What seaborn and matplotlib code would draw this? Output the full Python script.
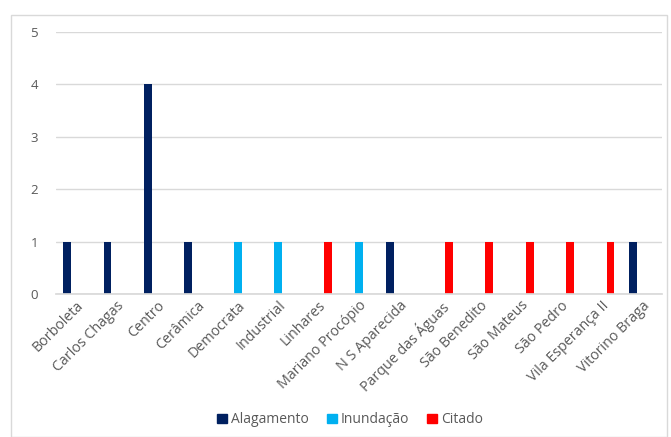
import matplotlib
matplotlib.use("Agg")
import matplotlib.pyplot as plt
import seaborn as sns
import pandas as pd
from matplotlib.patches import Rectangle

bairros = ["Borboleta", "Carlos Chagas", "Centro", "Cerâmica", "Democrata", "Industrial",
           "Linhares", "Mariano Procópio", "N S Aparecida", "Parque das Águas",
           "São Benedito", "São Mateus", "São Pedro", "Vila Esperança II", "Vitorino Braga"]
series = ["Alagamento", "Inundação", "Citado"]
alagamento = [1, 1, 4, 1, 0, 0, 0, 0, 1, 0, 0, 0, 0, 0, 1]
inundacao  = [0, 0, 0, 0, 1, 1, 0, 1, 0, 0, 0, 0, 0, 0, 0]
citado     = [0, 0, 0, 0, 0, 0, 1, 0, 0, 1, 1, 1, 1, 1, 0]
colors = ["#002060", "#00B0F0", "#FF0000"]

rows = []
for name, vals in zip(series, [alagamento, inundacao, citado]):
    for b, v in zip(bairros, vals):
        rows.append({"Bairro": b, "Tipo": name, "Valor": v})
df = pd.DataFrame(rows)

sns.set_theme(style="white")
plt.rcParams["font.family"] = ["Open Sans", "DejaVu Sans"]

fig = plt.figure(figsize=(6.71, 4.37), dpi=100)
ax = fig.add_axes([0.0835, 0.3272, 0.9031, 0.5996])

sns.barplot(data=df, x="Bairro", y="Valor", hue="Tipo", order=bairros, hue_order=series,
            palette=colors, saturation=1, width=0.68, gap=0.15, linewidth=0, ax=ax, legend=True)

ax.set_ylim(0, 5)
ax.set_xlim(-0.5, len(bairros) - 0.5)
ax.set_yticks(range(0, 6))
ax.yaxis.grid(True, color="#d9d9d9", linewidth=1)
ax.set_axisbelow(True)
for s in ["top", "right", "left"]:
    ax.spines[s].set_visible(False)
ax.spines["bottom"].set_color("#d9d9d9")
ax.tick_params(axis="y", length=0, colors="#595959", labelsize=9.5, pad=13)
ax.tick_params(axis="x", length=0, colors="#595959", labelsize=10.3, pad=3)
ax.set_xticks(range(len(bairros)))
ax.set_xticklabels(bairros, rotation=45, ha="right", va="top", rotation_mode="anchor")
ax.set_xlabel("")
ax.set_ylabel("")

ax.legend_.remove()
handles = [Rectangle((0, 0), 1, 1, color=c) for c in colors]
fig.legend(handles, series, loc="center", bbox_to_anchor=(0.5216, 0.039), ncol=3, frameon=False,
           handlelength=0.7, handleheight=0.7, handletextpad=0.3, columnspacing=1.3,
           prop={"size": 10}, labelcolor="#595959")

fig.patches.append(Rectangle((0.016, 0.0), 0.978, 0.966, transform=fig.transFigure,
                             fill=False, edgecolor="#d9d9d9", linewidth=1))

fig.savefig("out.png", dpi=100)
